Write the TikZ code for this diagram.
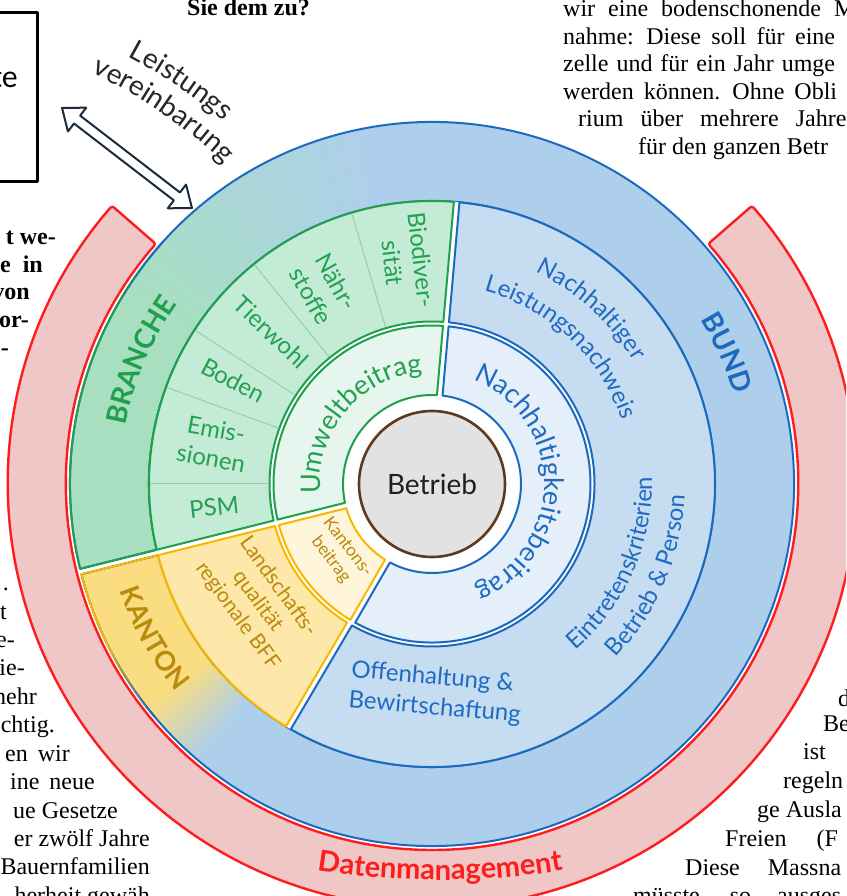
\documentclass[tikz,border=0pt]{standalone}
\usepackage{fontspec}
\setmainfont{Lato}
\newfontfamily\npserif{Liberation Serif}
\usetikzlibrary{decorations.text}

\definecolor{bline}{HTML}{1B6AC0}
\definecolor{btext}{HTML}{1F6BC2}
\definecolor{bundfill}{HTML}{AECFEB}
\definecolor{midblue}{HTML}{C6DCF1}
\definecolor{inblue}{HTML}{E4EFF9}
\definecolor{gline}{HTML}{1FA04C}
\definecolor{gtext}{HTML}{22A24F}
\definecolor{brfill}{HTML}{A7DFC0}
\definecolor{midgreen}{HTML}{C3EBD5}
\definecolor{ingreen}{HTML}{E6F6EE}
\definecolor{gdiv}{HTML}{8ED3A9}
\definecolor{yline}{HTML}{F6B800}
\definecolor{ytext}{HTML}{B98A0C}
\definecolor{kfill}{HTML}{FADD80}
\definecolor{midyellow}{HTML}{FDE8A9}
\definecolor{inyellow}{HTML}{FFF5DB}
\definecolor{rline}{HTML}{FF1C1C}
\definecolor{rfill}{HTML}{EFC7C7}
\definecolor{betfill}{HTML}{E2E2E2}
\definecolor{betline}{HTML}{5B3A20}
\definecolor{arrline}{HTML}{1C2B3B}

% half width of the white gap between neighbouring segments
\newcommand{\secgap}{2.8}
% \mksec<macro>{a1}{a2}{r_in}{r_out}: annular sector path with gaps at both ends
\newcommand{\mksec}[5]{%
  \pgfmathsetmacro\sAo{#2+\secgap/#5*57.2958}%
  \pgfmathsetmacro\sBo{#3-\secgap/#5*57.2958}%
  \pgfmathsetmacro\sAi{#2+\secgap/#4*57.2958}%
  \pgfmathsetmacro\sBi{#3-\secgap/#4*57.2958}%
  \edef#1{(\sAo:#5) arc[start angle=\sAo, end angle=\sBo, radius=#5] -- (\sBi:#4) arc[start angle=\sBi, end angle=\sAi, radius=#4] -- cycle}%
}
\newcommand{\wedgeclip}[2]{\clip (0,0) -- ({#1}:470) arc[start angle={#1}, end angle={#2}, radius=470] -- cycle;}

\tikzset{
  seg/.style={line width=2pt},
  midlabel/.style={text=gtext, font=\fontsize{24}{29}\selectfont, align=center, inner sep=0pt},
  np/.style={font=\npserif\fontsize{24}{27}\selectfont, inner sep=0pt, text=black},
  npb/.style={font=\npserif\bfseries\fontsize{24}{27}\selectfont, inner sep=0pt, text=black},
}

\begin{document}
\begin{tikzpicture}[x=1pt, y=1pt, line join=round]
\useasboundingbox (-432,-412) rectangle (414,484);
\fill[white] (-432,-412) rectangle (414,484);
\clip (-432,-412) rectangle (414,484);

% ---------- Datenmanagement ring ----------
\draw[rline, fill=rfill, line width=2.4pt, rounded corners=2.5pt]
  (139:424) arc[start angle=139, end angle=401, radius=424]
  -- (401:366) arc[start angle=401, end angle=139, radius=366] -- cycle;

% ---------- outer band: Branche / Bund / Kanton ----------
\mksec\secBand{-166}{194}{283}{362}
\fill[bundfill] \secBand;
\begin{scope}
  \clip \secBand;
  \fill[brfill] (0,0) -- (148:420) arc[start angle=148, end angle=194, radius=420] -- cycle;
  \foreach \i in {0,...,47}{
    \pgfmathtruncatemacro\pp{round(100*(1-\i/47))}
    \pgfmathsetmacro\aa{148-\i}
    \fill[brfill!\pp!bundfill] (0,0) -- ({\aa+0.6}:420) arc[start angle={\aa+0.6}, end angle={\aa-1}, radius=420] -- cycle;
  }
  \fill[kfill] (0,0) -- (-166:420) arc[start angle=-166, end angle=-142, radius=420] -- cycle;
  \foreach \i in {0,...,12}{
    \pgfmathtruncatemacro\pp{round(100*(1-\i/12))}
    \pgfmathsetmacro\aa{-142+\i}
    \fill[kfill!\pp!bundfill] (0,0) -- ({\aa-0.6}:420) arc[start angle={\aa-0.6}, end angle={\aa+1}, radius=420] -- cycle;
  }
\end{scope}
\draw[bline, seg] \secBand;
\begin{scope}\wedgeclip{152}{194}\draw[gline, seg] \secBand;\end{scope}
\foreach \i in {0,...,13}{
  \pgfmathtruncatemacro\pp{round(100*(1-\i/13))}
  \pgfmathsetmacro\aa{152-\i}
  \begin{scope}\wedgeclip{\aa-1}{\aa+0.1}\draw[gline!\pp!bline, seg] \secBand;\end{scope}
}
\begin{scope}\wedgeclip{194}{206}\draw[yline, seg] \secBand;\end{scope}
\foreach \i in {0,...,13}{
  \pgfmathtruncatemacro\pp{round(100*(1-\i/13))}
  \pgfmathsetmacro\aa{206+\i}
  \begin{scope}\wedgeclip{\aa-0.1}{\aa+1}\draw[yline!\pp!bline, seg] \secBand;\end{scope}
}

% ---------- middle ring ----------
\fill[white] (0,0) circle[radius=283];
\mksec\secMG{85}{194}{162.5}{283}
\mksec\secMY{194}{239.5}{162.5}{283}
\mksec\secMB{239.5}{445}{162.5}{283}
\draw[gline, fill=midgreen, seg] \secMG;
\foreach \a in {106.5,129,147,160,180}
  \draw[gdiv, line width=1pt] (\a:164) -- (\a:281.5);
\draw[yline, fill=midyellow, seg] \secMY;
\draw[bline, fill=midblue, seg] \secMB;

% ---------- inner ring ----------
\mksec\secIG{85}{194}{89}{158.5}
\mksec\secIY{194}{240}{89}{158.5}
\mksec\secIB{240}{445}{89}{158.5}
\draw[gline, fill=ingreen, seg] \secIG;
\draw[yline, fill=inyellow, seg] \secIY;
\draw[bline, fill=inblue, seg] \secIB;

% ---------- centre ----------
\draw[betline, fill=betfill, line width=2.6pt] (0,0) circle[radius=73];
\node[font=\fontsize{28}{28}\selectfont, text=black!88] (betrieb) at (0,0) {Betrieb};

% ---------- curved labels ----------
\path[decorate, decoration={text along path, text align=center,
  text={|\fontsize{27}{27}\selectfont\color{gtext}|Umweltbeitrag}}]
  (230:112) arc[start angle=230, end angle=50, radius=112];
\path[decorate, decoration={text along path, text align=center,
  text={|\fontsize{27}{27}\selectfont\color{btext}|Nachhaltigkeitsbeitrag}}]
  (100.5:112) arc[start angle=100.5, end angle=-99.5, radius=112];
\path[decorate, decoration={text along path, text align=center,
  text={|\fontsize{24}{24}\selectfont\color{btext}|Nachhaltiger}}]
  (110:236) arc[start angle=110, end angle=-14.8, radius=236];
\path[decorate, decoration={text along path, text align=center,
  text={|\fontsize{24}{24}\selectfont\color{btext}|Leistungsnachweis}}]
  (110:200) arc[start angle=110, end angle=-16.6, radius=200];
\path[decorate, decoration={text along path, text align=center,
  text={|\fontsize{24}{24}\selectfont\color{btext}|Eintretenskriterien}}]
  (-90:220) arc[start angle=-90, end angle=42.6, radius=220];
\path[decorate, decoration={text along path, text align=center,
  text={|\fontsize{24}{24}\selectfont\color{btext}|Betrieb {\&} Person}}]
  (-90:253) arc[start angle=-90, end angle=44, radius=253];
\path[decorate, decoration={text along path, text align=center,
  text={|\fontsize{28}{28}\selectfont\bfseries\color{gline}|BRANCHE}}]
  (207:312) arc[start angle=207, end angle=107, radius=312];
\path[decorate, decoration={text along path, text align=center,
  text={|\fontsize{28}{28}\selectfont\bfseries\color{bline}|BUND}}]
  (74:315) arc[start angle=74, end angle=-26, radius=315];
\path[decorate, decoration={text along path, text align=center,
  text={|\fontsize{27}{27}\selectfont\bfseries\color{ytext}|KANTON}}]
  (149:330) arc[start angle=149, end angle=269, radius=330];
\path[shift={(8,375)}, decorate, decoration={text along path, text align=center,
  text={|\fontsize{29}{29}\selectfont\bfseries\color{rline}|Datenmanagement}}]
  (250:771) arc[start angle=250, end angle=290, radius=771];
\path[shift={(-558,-49)}, decorate, decoration={text along path, text align=center,
  text={|\fontsize{28}{28}\selectfont\color{black!85}|Leistungs}}]
  (95.8:540) arc[start angle=95.8, end angle=15.8, radius=540];
\path[shift={(-558,-49)}, decorate, decoration={text along path, text align=center,
  text={|\fontsize{28}{28}\selectfont\color{black!85}|vereinbarung}}]
  (95.6:509) arc[start angle=95.6, end angle=15.6, radius=509];

% ---------- straight labels ----------
\node[midlabel, rotate=-83.6] (biodiv) at (96.4:224) {Biodiver-\\sität};
\node[midlabel, rotate=-61] (naehr) at (119:223) {Nähr-\\stoffe};
\node[midlabel, rotate=-43.4] (tierwohl) at (136.6:221) {Tierwohl};
\node[midlabel, rotate=-27.6] (boden) at (152.4:224) {Boden};
\node[midlabel, rotate=-10.4] (emis) at (169.6:222) {Emis-\\sionen};
\node[midlabel, rotate=6] (psm) at (186:219) {PSM};
\node[text=ytext, font=\fontsize{17.5}{21}\selectfont, align=center, inner sep=0pt, rotate=-53]
  (kbeitrag) at (216.8:116) {Kantons-\\beitrag};
\node[text=ytext, font=\fontsize{21}{25}\selectfont, align=center, inner sep=0pt, rotate=-54]
  (landschaft) at (214:210) {Landschafts-\\qualität\\regionale BFF};
\node[text=btext, font=\fontsize{24}{30}\selectfont, align=left, inner sep=0pt, rotate=-5]
  (offen) at (4,-209) {Offenhaltung \&\\Bewirtschaftung};

% ---------- Leistungsvereinbarung arrow ----------
\begin{scope}[shift={(-305,326)}, rotate=-37.6]
  \draw[arrline, fill=white, line width=2pt]
    (82,0) -- (63,15) -- (63,5) -- (-63,5) -- (-63,15) -- (-82,0)
    -- (-63,-15) -- (-63,-5) -- (63,-5) -- (63,-15) -- cycle;
\end{scope}

% ---------- box at the top left ----------
\draw[black, line width=3pt] (-445,471) rectangle (-394,302);
\node[anchor=east, inner sep=0pt, font=\fontsize{30}{30}\selectfont] (boxtext) at (-414,406) {te};

% ---------- surrounding article text ----------
\node[npb, anchor=base west] (q) at (-245,468) {Sie dem zu?};
\node[np, anchor=base west] (r1) at (131,467) {\spaceskip=13pt wir eine bodenschonende M};
\node[np, anchor=base west] (r2) at (131,439.5) {\spaceskip=10.5pt nahme: Diese soll für eine};
\node[np, anchor=base west] (r3) at (131,412) {\spaceskip=8pt zelle und für ein Jahr umge};
\node[np, anchor=base west] (r4) at (131,384.5) {\spaceskip=10pt werden können. Ohne Obli};
\node[np, anchor=base west] (r5) at (146,357) {\spaceskip=17pt rium über mehrere Jahre};
\node[np, anchor=base west] (r6) at (206,329.5) {für den ganzen Betr};

\node[npb, anchor=base east] (l1) at (-376,239) {t we-};
\node[npb, anchor=base east] (l2) at (-389,211) {e\hspace{12pt}in};
\node[npb, anchor=base east] (l3) at (-402,184) {von};
\node[npb, anchor=base east] (l4) at (-403,156) {or-};
\node[npb, anchor=base east] (l5) at (-423,128) {-};

\node[np, anchor=base east] (m0) at (-423,-106.5) {.};
\node[np, anchor=base east] (m1) at (-425,-135) {t};
\node[np, anchor=base east] (m2) at (-417,-163) {e-};
\node[np, anchor=base east] (m3) at (-407,-191.7) {ie-};
\node[np, anchor=base east] (m4) at (-395,-220) {nehr};
\node[np, anchor=base east] (m5) at (-377,-248.5) {chtig.};
\node[np, anchor=base east] (m6) at (-362,-277) {en\hspace{10pt}wir};
\node[np, anchor=base east] (m7) at (-337,-305) {ine\hspace{10pt}neue};
\node[np, anchor=base east] (m8) at (-314,-334) {ue Gesetze};
\node[np, anchor=base east] (m9) at (-282,-362) {er zwölf Jahre};
\node[np, anchor=base east] (m10) at (-282,-390.5) {Bauernfamilien};
\node[np, anchor=base east] (m11) at (-282,-419) {herheit gewäh};

\node[np, anchor=base west] (s1) at (406,-222) {d};
\node[np, anchor=base west] (s2) at (391,-247) {Be};
\node[np, anchor=base west] (s3) at (371,-275) {ist};
\node[np, anchor=base west] (s4) at (351,-304) {regeln};
\node[np, anchor=base west] (s5) at (325,-333) {ge Ausla};
\node[np, anchor=base west] (s6) at (293,-362) {Freien\hspace{30pt}(F};
\node[np, anchor=base west] (s7) at (253,-391) {Diese\hspace{28pt}Massna};
\node[np, anchor=base west] (s8) at (201,-419) {müsste\hspace{30pt}so\hspace{26pt}ausges};
\end{tikzpicture}
\end{document}
